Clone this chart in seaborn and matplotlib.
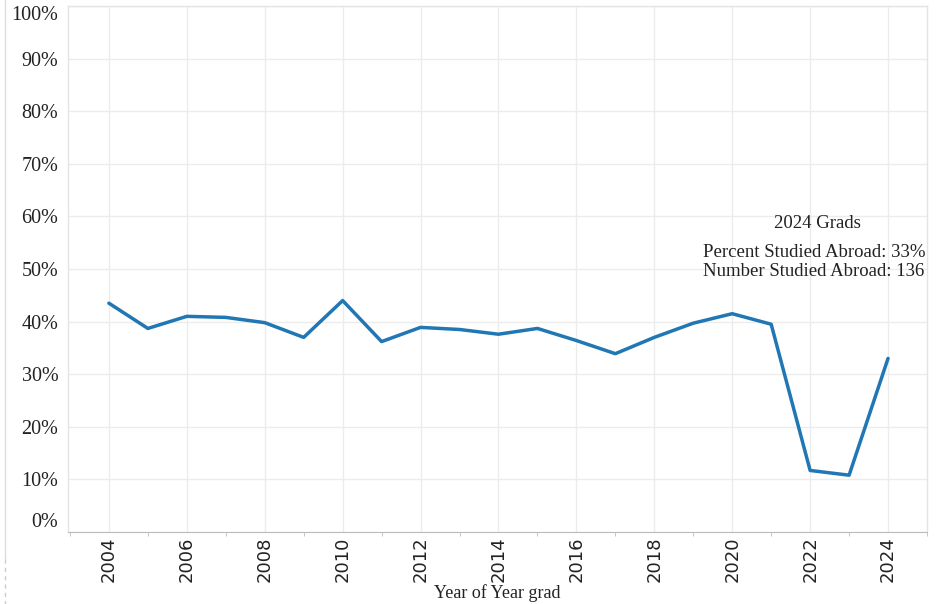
import pandas as pd
import numpy as np
import matplotlib
matplotlib.use("Agg")
import matplotlib.pyplot as plt
from matplotlib.ticker import MultipleLocator
import seaborn as sns

sns.set_style("white")
plt.rcParams['font.family'] = ['Liberation Serif', 'DejaVu Serif']

# data
years = list(range(2004, 2025))
pct_abroad = [43.5, 38.7, 41.0, 40.8, 39.8, 37.0, 44.0, 36.2, 38.9, 38.5, 37.6,
              38.7, 36.4, 33.9, 37.0, 39.7, 41.5, 39.5, 11.7, 10.8, 33.0]
y_ticks = [0, 10, 20, 30, 40, 50, 60, 70, 80, 90, 100]
x_ticks = list(range(2004, 2025, 2))
note_title = "2024 Grads"
note_lines = ["Percent Studied Abroad: 33%", "Number Studied Abroad: 136"]

df = pd.DataFrame({'year': years, 'pct': pct_abroad})

fig = plt.figure(figsize=(9.42, 6.04), dpi=100)
ax = fig.add_axes([68/942, 72/604, 859/942, 526/604])

sns.lineplot(data=df, x='year', y='pct', ax=ax, color='#2077b4', linewidth=2.5)

ax.set_xlim(2002.95, 2025.0)
ax.set_ylim(0, 100)

# grid
ax.set_yticks(y_ticks)
ax.set_xticks(x_ticks)
ax.xaxis.set_minor_locator(MultipleLocator(1))
ax.grid(True, which='major', color='#ececec', linewidth=1)
ax.set_axisbelow(True)

# y labels (tableau style: end labels pulled inside)
ax.set_yticklabels([f"{v}%" for v in y_ticks], fontsize=14.5, color='#222222')
ax.tick_params(axis='y', length=0, pad=7)
labs = ax.get_yticklabels()
labs[0].set_va('bottom')
labs[-1].set_va('top')

ax.set_xticklabels([str(v) for v in x_ticks], rotation=90, fontsize=13,
                   family='DejaVu Sans', color='#222222')
ax.tick_params(axis='x', which='major', length=3, color='#bbbbbb', pad=0)
ax.tick_params(axis='x', which='minor', length=3, color='#bbbbbb', bottom=True)

ax.set_xlabel("")
ax.set_ylabel("")
fig.text(497/942, 1 - 593/604, "Year of Year grad", fontsize=13, color='#222222',
         ha='center', va='center')

for s in ['top', 'right', 'left']:
    ax.spines[s].set_color('#e4e4e4')
    ax.spines[s].set_linewidth(1)
ax.spines['bottom'].set_color('#bbbbbb')
ax.spines['bottom'].set_linestyle((0, (1, 1)))

# annotation block
fig.text(817/942, 1 - 224/604, note_title, fontsize=13.5,
         ha='center', va='center', color='#222222')
fig.text(703/942, 1 - 262/604, "\n".join(note_lines),
         fontsize=13.5, ha='left', va='center', color='#222222', linespacing=1.2)

# faint edge of neighbouring panel
fig.add_artist(plt.Line2D([5/942, 5/942], [1, 45/604], color='#dddddd', lw=1,
                          transform=fig.transFigure))
fig.add_artist(plt.Line2D([5/942, 5/942], [45/604, 0], color='#cccccc', lw=1,
                          ls=(0, (3, 3)), transform=fig.transFigure))

fig.savefig("out.png", dpi=100)
